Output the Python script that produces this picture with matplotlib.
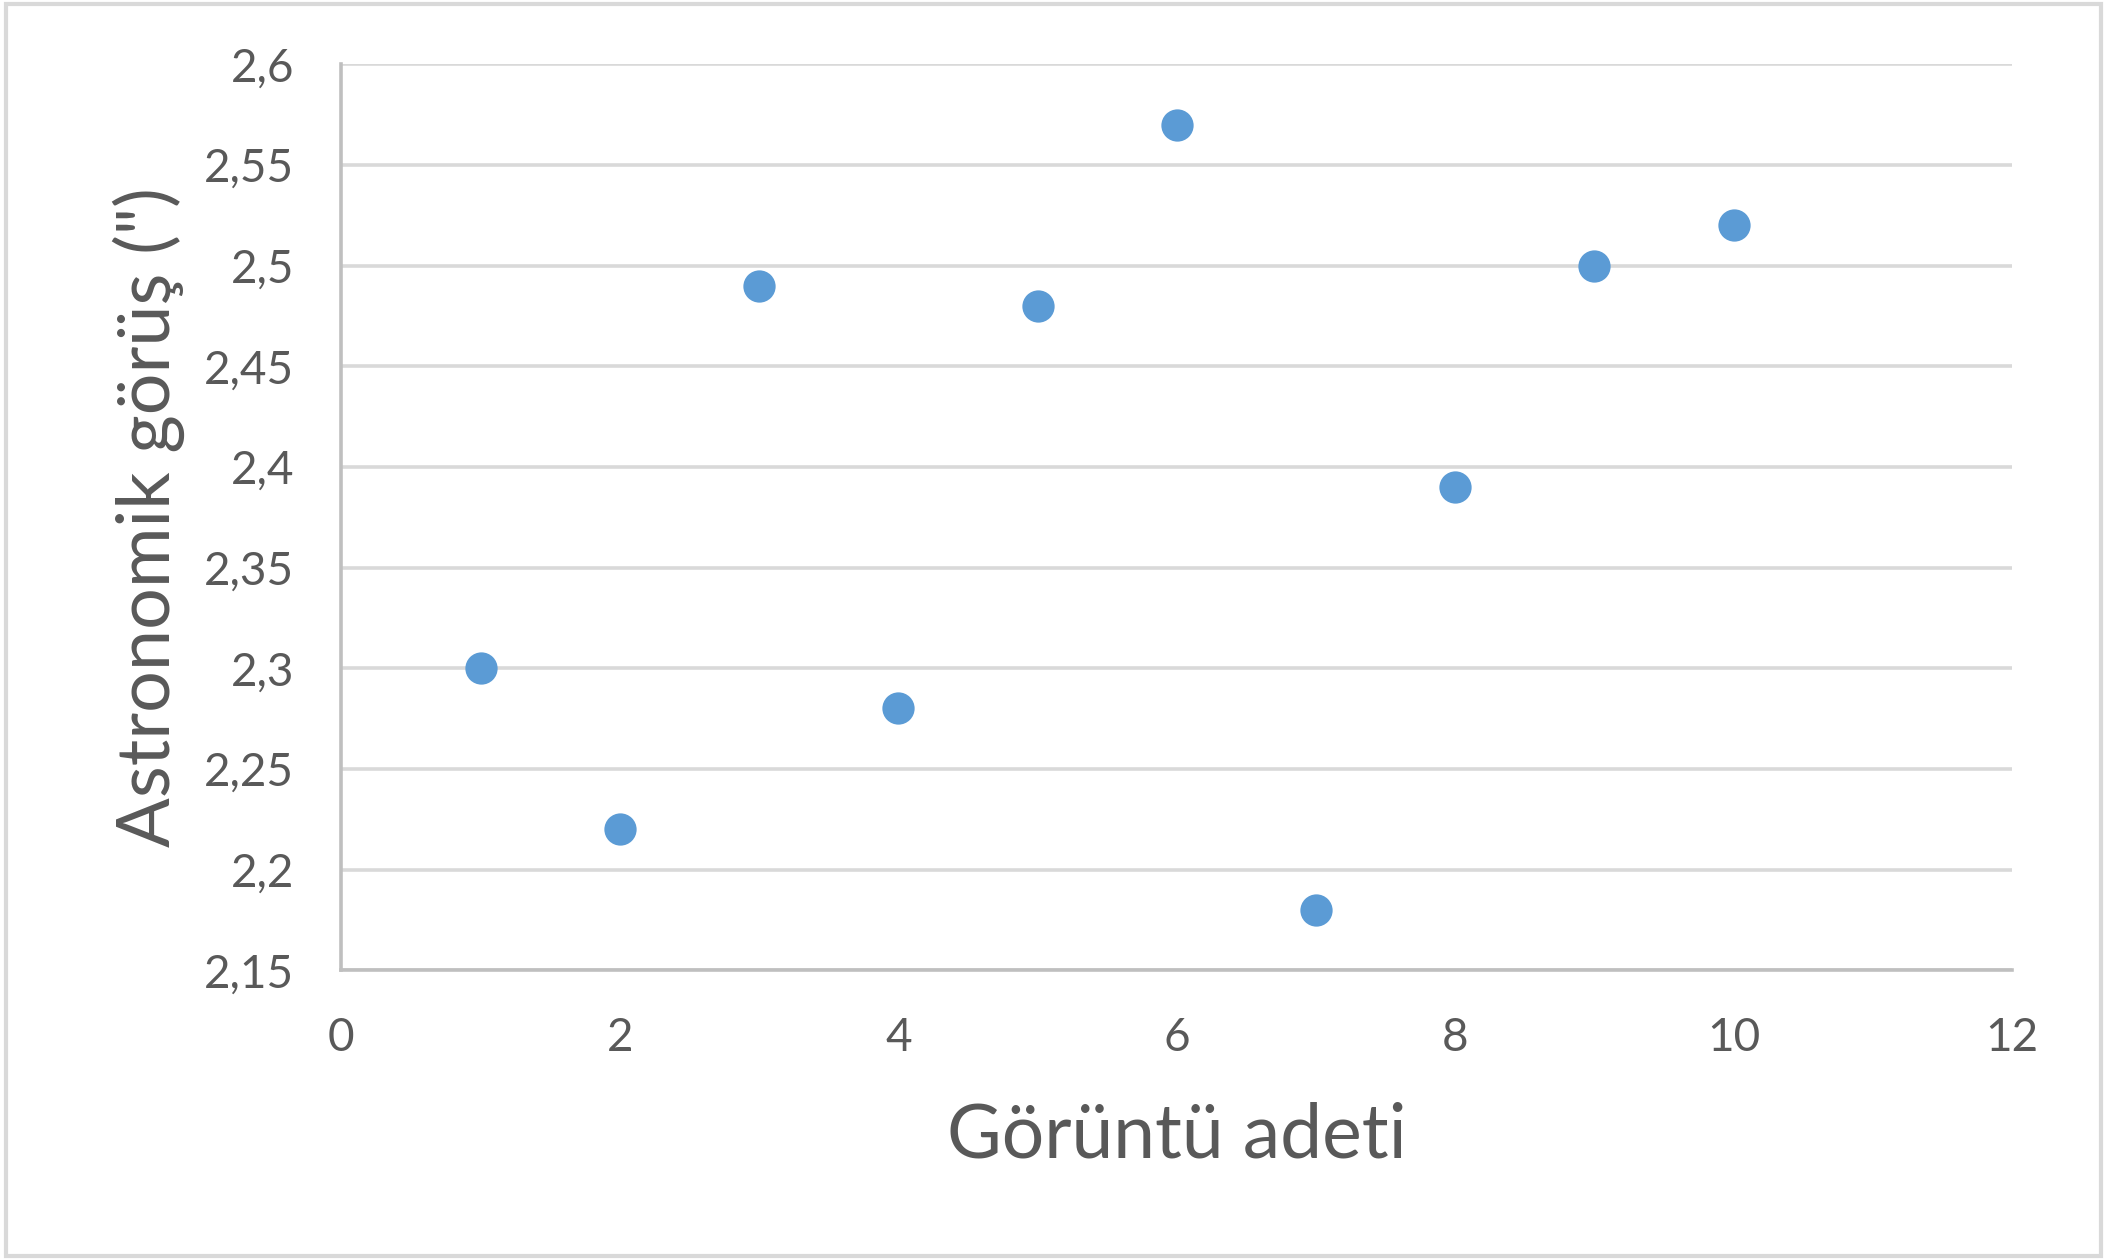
# libraries
import matplotlib.pyplot as plt
from matplotlib.patches import Rectangle
from matplotlib.ticker import FuncFormatter

# data
goruntu = [1, 2, 3, 4, 5, 6, 7, 8, 9, 10]
gorus = [2.30, 2.22, 2.49, 2.28, 2.48, 2.57, 2.18, 2.39, 2.50, 2.52]

plt.rcParams['font.family'] = ['Lato', 'DejaVu Sans']

fig = plt.figure(figsize=(21.07, 12.6), dpi=100)
ax = fig.add_axes([0.162, 0.230, 0.793, 0.719])

# points
ax.scatter(goruntu, gorus, s=540, color='#5B9BD5', zorder=3, linewidths=0)

ax.set_xlim(0, 12)
ax.set_ylim(2.15, 2.6)
ax.set_xticks(range(0, 13, 2))
ax.set_yticks([2.15, 2.2, 2.25, 2.3, 2.35, 2.4, 2.45, 2.5, 2.55, 2.6])
# comma decimal separator
ax.yaxis.set_major_formatter(FuncFormatter(lambda v, p: ('%g' % round(v, 2)).replace('.', ',')))

ax.grid(axis='y', color='#D9D9D9', linewidth=2.6, zorder=0)
ax.set_axisbelow(True)
for s in ['top', 'right']:
    ax.spines[s].set_visible(False)
for s in ['left', 'bottom']:
    ax.spines[s].set_color('#BFBFBF')
    ax.spines[s].set_linewidth(2.6)

ax.tick_params(length=0, labelsize=33, colors='#595959')
ax.tick_params(axis='x', pad=34)
ax.tick_params(axis='y', pad=34)

ax.set_xlabel('Görüntü adeti', fontsize=54, color='#595959', labelpad=30)
ax.set_ylabel('Astronomik görüş (")', fontsize=53, color='#595959', labelpad=14)

# outer chart border
fig.patches.append(Rectangle((0.003, 0.003), 0.994, 0.994, transform=fig.transFigure,
                             fill=False, edgecolor='#D9D9D9', linewidth=3))

fig.savefig('out.png', dpi=100)
